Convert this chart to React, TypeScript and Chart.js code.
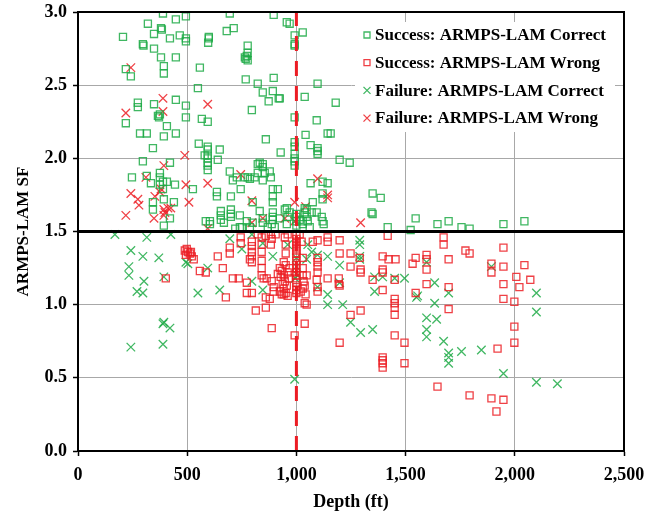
import React, { useEffect, useRef } from 'react';
import { Chart, registerables } from 'chart.js';

Chart.register(...registerables);

const xTicks = [0, 500, 1000, 1500, 2000, 2500];
const yTicks = [0, 0.5, 1.0, 1.5, 2.0, 2.5, 3.0];
const seriesLabels = [
  'Success: ARMPS-LAM Correct',
  'Success: ARMPS-LAM Wrong',
  'Failure: ARMPS-LAM Correct',
  'Failure: ARMPS-LAM Wrong',
];
const sfThreshold = 1.5;
const depthThreshold = 1000;

// [depth ft, ARMPS-LAM SF]
const successCorrect: [number, number][] = [
  [206, 2.83], [389, 2.99], [320, 2.92], [380, 2.89], [384, 2.88], [448, 2.95], [494, 2.97], [348, 2.85],
  [421, 2.82], [466, 2.84], [494, 2.82], [494, 2.80], [297, 2.78], [300, 2.77], [348, 2.75], [380, 2.69],
  [448, 2.69], [393, 2.63], [393, 2.58], [219, 2.61], [242, 2.56], [599, 2.83], [599, 2.82], [596, 2.79],
  [681, 2.87], [713, 2.89], [695, 2.99], [896, 2.98], [956, 2.93], [969, 2.92], [992, 2.84], [1029, 2.86],
  [992, 2.78], [992, 2.77], [777, 2.77], [764, 2.69], [777, 2.72], [777, 2.67], [768, 2.68], [773, 2.70],
  [558, 2.62], [549, 2.48], [768, 2.54], [823, 2.51], [896, 2.55], [892, 2.46], [846, 2.45], [873, 2.39],
  [919, 2.41], [924, 2.41], [796, 2.33], [1038, 2.42], [1097, 2.51], [992, 2.28], [1093, 2.26], [274, 2.38],
  [274, 2.35], [219, 2.24], [348, 2.37], [366, 2.29], [371, 2.28], [375, 2.30], [448, 2.40], [407, 2.22],
  [284, 2.17], [315, 2.17], [448, 2.17], [393, 2.15], [494, 2.36], [494, 2.28], [567, 2.27], [594, 2.25],
  [343, 2.07], [553, 2.10], [594, 2.08], [594, 2.06], [594, 2.02], [649, 2.06], [580, 2.02], [594, 2.00],
  [594, 1.97], [594, 1.95], [594, 1.92], [640, 1.99], [860, 2.13], [928, 2.04], [1042, 2.16], [1065, 2.09],
  [1097, 2.07], [1097, 2.05], [1097, 2.03], [992, 2.11], [992, 2.08], [992, 2.03], [992, 2.00], [992, 1.98],
  [992, 1.95], [1143, 2.17], [1157, 2.17], [1180, 2.38], [1198, 1.99], [1244, 1.97],
  [297, 1.98], [421, 1.97], [247, 1.87], [315, 1.88], [334, 1.83], [375, 1.90], [375, 1.87], [389, 1.84],
  [407, 1.84], [444, 1.82], [375, 1.82], [389, 1.79], [393, 1.72], [343, 1.70], [343, 1.65], [439, 1.70],
  [421, 1.59], [393, 1.54], [526, 1.79], [585, 1.57], [636, 1.77], [636, 1.74], [695, 1.91], [709, 1.85],
  [745, 1.79], [700, 1.74], [777, 1.87], [832, 1.97], [846, 1.94], [823, 1.90], [855, 1.90], [878, 1.91],
  [809, 1.87], [846, 1.85], [787, 1.86], [764, 1.87], [727, 1.87], [883, 1.87], [915, 1.79], [892, 1.79],
  [892, 1.74], [892, 1.70], [823, 1.96], [846, 1.96],
  [654, 1.64], [654, 1.61], [654, 1.58], [604, 1.57], [604, 1.55], [668, 1.56], [700, 1.65], [700, 1.62],
  [700, 1.60], [741, 1.61], [773, 1.57], [800, 1.56], [787, 1.53], [846, 1.59], [846, 1.56], [887, 1.55],
  [901, 1.53], [947, 1.65], [969, 1.63], [960, 1.60], [1015, 1.58], [1029, 1.57], [1047, 1.60], [1047, 1.65],
  [956, 1.55], [924, 1.59], [800, 1.70], [832, 1.64], [892, 1.63], [892, 1.60], [892, 1.58], [869, 1.53],
  [956, 1.66], [750, 1.53], [720, 1.52], [1000, 1.62], [1000, 1.60], [1000, 1.57], [1000, 1.54], [741, 1.53],
  [1065, 1.83], [1120, 1.84], [1143, 1.83], [1120, 1.76], [1120, 1.72], [1075, 1.70], [1038, 1.66], [1038, 1.63],
  [1093, 1.63], [1116, 1.60], [1120, 1.57], [1349, 1.76], [1386, 1.73], [1344, 1.63], [1349, 1.62], [1418, 1.53],
  [1523, 1.51], [1546, 1.59], [1646, 1.55], [1697, 1.57], [1756, 1.53], [1793, 1.52], [1948, 1.55], [2044, 1.57],
  [1070, 1.63], [1125, 1.55], [1052, 1.57], [1029, 1.55], [1061, 1.53],
];

const successWrong: [number, number][] = [
  [489, 1.37], [498, 1.38], [494, 1.34], [503, 1.36], [512, 1.35], [517, 1.36], [521, 1.33], [530, 1.31],
  [558, 1.23], [585, 1.22], [402, 1.18], [640, 1.33], [663, 1.25], [677, 1.05], [695, 1.39], [695, 1.35],
  [745, 1.46], [745, 1.42], [709, 1.18], [736, 1.18], [773, 1.08], [796, 1.08], [773, 1.15], [814, 0.96],
  [860, 0.98], [860, 1.05], [878, 1.04], [887, 0.84], [992, 0.79], [1038, 0.87], [1038, 1.01],
  [796, 1.43], [796, 1.40], [796, 1.36], [796, 1.33], [796, 1.29], [787, 1.31],
  [841, 1.46], [841, 1.41], [841, 1.36], [841, 1.30], [841, 1.25], [841, 1.20], [850, 1.18],
  [883, 1.48], [887, 1.45], [883, 1.41], [864, 1.18], [887, 1.16], [896, 1.12], [896, 1.09],
  [924, 1.25], [933, 1.23], [942, 1.20], [928, 1.19], [947, 1.16], [937, 1.14], [956, 1.13], [942, 1.11],
  [924, 1.09], [951, 1.08], [960, 1.06], [942, 1.07], [933, 1.07], [915, 1.21], [960, 1.22], [965, 1.18],
  [969, 1.25], [951, 1.27], [947, 1.46], [951, 1.41], [951, 1.35], [942, 1.29],
  [1000, 1.47], [1000, 1.45], [1000, 1.43], [1000, 1.41], [1000, 1.39], [1000, 1.37], [1000, 1.35], [1000, 1.33],
  [1000, 1.30], [1000, 1.27], [1000, 1.25], [1000, 1.22], [1000, 1.20], [1000, 1.18], [1000, 1.15], [1000, 1.12],
  [1000, 1.10], [1000, 1.08], [1047, 1.20], [1038, 1.13], [1020, 1.09], [1047, 1.00],
  [1015, 1.48], [1024, 1.43], [1029, 1.32], [1029, 1.25], [1029, 1.20], [1033, 1.16], [1029, 1.11], [1042, 1.07],
  [823, 1.48], [860, 1.47], [905, 1.48], [960, 1.48], [1075, 1.43],
  [1097, 1.44], [1097, 1.32], [1097, 1.29], [1097, 1.26], [1097, 1.22], [1093, 1.17], [1097, 1.12], [1097, 1.09],
  [1143, 1.46], [1143, 1.43], [1143, 1.18], [1198, 1.44], [1198, 1.35], [1194, 1.18], [1194, 1.14], [1198, 1.13],
  [1248, 1.35], [1248, 1.26], [1294, 1.24], [1294, 1.22], [1294, 0.96], [1248, 0.93], [1290, 1.32],
  [1198, 0.74], [1349, 1.17], [1395, 1.33], [1395, 1.24], [1395, 1.22], [1395, 1.10], [1422, 1.31], [1454, 1.31],
  [1418, 1.47], [1450, 1.17], [1450, 1.04], [1450, 1.01], [1450, 0.98], [1450, 0.93], [1450, 0.79], [1395, 0.64],
  [1395, 0.62], [1395, 0.60], [1395, 0.57], [1495, 0.74], [1495, 0.60], [1532, 1.28], [1546, 1.32], [1546, 1.08],
  [1596, 1.34], [1596, 1.31], [1596, 1.24], [1596, 1.14], [1674, 1.46], [1674, 1.41], [1697, 1.31], [1697, 1.12],
  [1697, 0.97], [1646, 0.44], [1774, 1.37], [1793, 1.35], [1793, 0.38], [1893, 1.28], [1893, 1.22], [1893, 0.36],
  [1916, 0.27], [1948, 1.39], [1948, 1.26], [1948, 1.14], [1948, 1.04], [1948, 0.35], [1921, 0.70], [1998, 1.02],
  [1998, 0.85], [1998, 0.74], [2007, 1.19], [2021, 1.12], [2044, 1.27], [2071, 1.17],
];

const failureCorrect: [number, number][] = [
  [169, 1.48], [315, 1.46], [425, 1.48], [242, 1.37], [297, 1.33], [370, 1.32], [233, 1.26], [233, 1.20],
  [302, 1.16], [270, 1.09], [297, 1.08], [393, 1.19], [494, 1.29], [549, 1.08], [393, 0.88], [242, 0.71],
  [389, 0.73], [389, 0.87], [421, 0.84], [992, 0.49], [649, 1.10], [594, 1.25], [503, 1.28], [695, 1.45],
  [750, 1.38], [796, 1.16], [846, 1.10], [796, 1.48], [846, 1.42], [892, 1.33], [960, 1.41], [1000, 1.32],
  [1000, 1.26], [1005, 1.20], [995, 1.18], [1047, 1.31], [1052, 1.41], [1070, 1.36], [1097, 1.34], [1143, 1.33],
  [1198, 1.27], [1290, 1.44], [1290, 1.41], [1290, 1.33], [1290, 1.31], [1198, 1.15], [1097, 1.12], [1143, 1.07],
  [1143, 1.00], [1212, 1.00], [1248, 0.88], [1294, 0.81], [1349, 0.83], [1358, 1.19], [1395, 1.19], [1358, 1.09],
  [1450, 1.18], [1495, 1.18], [1550, 1.05], [1555, 1.06], [1596, 1.29], [1633, 1.15], [1633, 1.01], [1596, 0.91],
  [1642, 0.90], [1596, 0.83], [1596, 0.78], [1674, 0.75], [1697, 0.67], [1697, 0.64], [1697, 0.60], [1756, 0.68],
  [1847, 0.69], [1697, 1.08], [1893, 1.26], [1948, 0.53], [2099, 1.08], [2099, 0.95], [2099, 0.47], [2195, 0.46],
];

const failureWrong: [number, number][] = [
  [242, 2.62], [219, 2.31], [389, 2.41], [389, 2.32], [594, 2.37], [489, 2.02], [393, 1.95], [311, 1.87],
  [380, 1.79], [375, 1.77], [242, 1.76], [274, 1.72], [279, 1.68], [352, 1.74], [494, 1.82], [508, 1.70],
  [219, 1.61], [348, 1.59], [393, 1.65], [398, 1.63], [412, 1.66], [393, 1.61], [425, 1.66], [594, 1.83],
  [745, 1.89], [796, 1.71], [594, 1.52], [796, 1.56], [846, 1.59], [947, 1.59], [992, 1.70], [992, 1.57],
  [1042, 1.67], [1097, 1.86], [1143, 1.75], [1143, 1.73], [1294, 1.56],
];

const GREEN = 'rgba(30,170,70,0.85)';
const RED = 'rgba(236,30,36,0.85)';
const FONT = '"Liberation Serif", "Times New Roman", serif';

const toPts = (arr: [number, number][]) => arr.map(([x, y]) => ({ x, y }));

const overlayPlugin = {
  id: 'overlay',
  afterDatasetsDraw(chart: any) {
    const { ctx, chartArea: a, scales } = chart;
    const xs = scales.x;
    const ys = scales.y;
    ctx.save();
    // vertical dashed depth threshold
    const xp = xs.getPixelForValue(depthThreshold);
    ctx.strokeStyle = '#ec1c24';
    ctx.lineWidth = 3;
    ctx.setLineDash([15, 10]);
    ctx.beginPath();
    ctx.moveTo(xp, a.bottom);
    ctx.lineTo(xp, a.top);
    ctx.stroke();
    ctx.setLineDash([]);
    // horizontal SF threshold
    const yp = ys.getPixelForValue(sfThreshold);
    ctx.strokeStyle = '#000';
    ctx.lineWidth = 3;
    ctx.beginPath();
    ctx.moveTo(a.left, yp);
    ctx.lineTo(a.right, yp);
    ctx.stroke();
    // frame
    ctx.lineWidth = 2;
    ctx.strokeRect(a.left, a.top, a.right - a.left, a.bottom - a.top);

    // legend
    const lx = a.left + 277;
    const ly = a.top + 10;
    ctx.fillStyle = '#fff';
    ctx.fillRect(lx, ly, 260, 110);
    ctx.font = `bold 17px ${FONT}`;
    ctx.textBaseline = 'middle';
    ctx.textAlign = 'left';
    chart.data.datasets.forEach((ds: any, i: number) => {
      const cy = ly + 13 + i * 27.7;
      const cx = lx + 12;
      ctx.strokeStyle = ds.borderColor;
      ctx.lineWidth = 1.3;
      ctx.beginPath();
      if (ds.pointStyle === 'rect') {
        ctx.rect(cx - 3, cy - 3, 6, 6);
      } else {
        ctx.moveTo(cx - 3.5, cy - 3.5);
        ctx.lineTo(cx + 3.5, cy + 3.5);
        ctx.moveTo(cx + 3.5, cy - 3.5);
        ctx.lineTo(cx - 3.5, cy + 3.5);
      }
      ctx.stroke();
      ctx.fillStyle = '#000';
      ctx.fillText(ds.label, cx + 8, cy + 1);
    });
    ctx.restore();
  },
};

export default function App() {
  const ref = useRef<HTMLCanvasElement | null>(null);
  useEffect(() => {
    document.body.style.margin = '0';
    if (!ref.current) return;
    const mk = (label: string, data: [number, number][], color: string, style: string, r: number) => ({
      label,
      data: toPts(data),
      borderColor: color,
      backgroundColor: 'rgba(0,0,0,0)',
      pointStyle: style,
      pointRadius: r,
      pointBorderWidth: 1.3,
      showLine: false,
    });
    const chart = new Chart(ref.current, {
      type: 'scatter',
      data: {
        datasets: [
          mk(seriesLabels[0], successCorrect, GREEN, 'rect', 5),
          mk(seriesLabels[1], successWrong, RED, 'rect', 5),
          mk(seriesLabels[2], failureCorrect, GREEN, 'crossRot', 6),
          mk(seriesLabels[3], failureWrong, RED, 'crossRot', 6),
        ] as any,
      },
      options: {
        animation: false,
        responsive: false,
        layout: { padding: { left: 0, right: 37, top: 12, bottom: 0 } },
        plugins: { legend: { display: false }, tooltip: { enabled: false } },
        scales: {
          x: {
            type: 'linear',
            min: xTicks[0],
            max: xTicks[xTicks.length - 1],
            afterFit: (s: any) => { s.height = 60; s.paddingLeft = 0; s.paddingRight = 0; },
            afterBuildTicks: (s: any) => { s.ticks = xTicks.map((v) => ({ value: v })); },
            ticks: {
              padding: 9,
              color: '#000',
              font: { family: FONT, size: 18, weight: 'bold' },
              callback: (v: any) => Number(v).toLocaleString('en-US'),
            },
            grid: { color: '#a8a8a8', lineWidth: 1, tickLength: 5, tickColor: '#000', tickWidth: 1.5 },
            border: { color: '#000', width: 2 },
            title: {
              display: true,
              text: 'Depth (ft)',
              color: '#000',
              font: { family: FONT, size: 18, weight: 'bold' },
              padding: { top: 0, bottom: -2 },
            },
          },
          y: {
            type: 'linear',
            min: yTicks[0],
            max: yTicks[yTicks.length - 1],
            afterFit: (s: any) => { s.width = 78; s.paddingTop = 0; s.paddingBottom = 0; },
            afterBuildTicks: (s: any) => { s.ticks = yTicks.map((v) => ({ value: v })); },
            ticks: {
              padding: 6,
              color: '#000',
              font: { family: FONT, size: 18, weight: 'bold' },
              callback: (v: any) => Number(v).toFixed(1),
            },
            grid: { color: '#a8a8a8', lineWidth: 1, tickLength: 5, tickColor: '#000', tickWidth: 1.5 },
            border: { color: '#000', width: 2 },
            title: {
              display: true,
              text: 'ARMPS-LAM SF',
              color: '#000',
              font: { family: FONT, size: 17, weight: 'bold' },
              padding: { top: 13, bottom: 0 },
            },
          },
        },
      } as any,
      plugins: [overlayPlugin],
    });
    return () => chart.destroy();
  }, []);
  return (
    <div style={{ width: 661, height: 511 }}>
      <canvas ref={ref} width={661} height={511} />
    </div>
  );
}
